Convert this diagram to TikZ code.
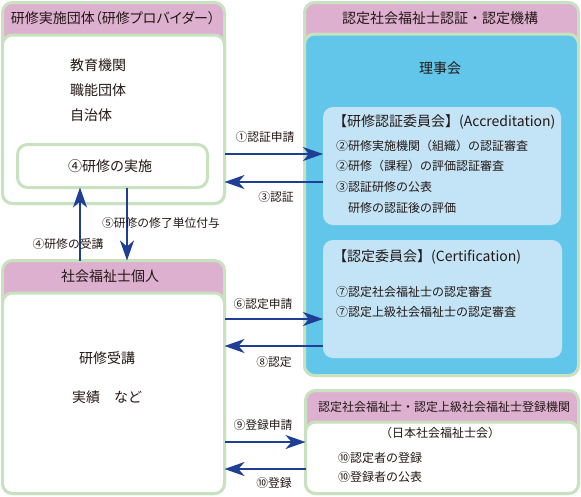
\documentclass[tikz,border=0pt]{standalone}
\usepackage{fontspec}
\setmainfont{Noto Sans CJK JP}
\newfontfamily\jpprop[RawFeature=+palt]{Noto Sans CJK JP}
\usetikzlibrary{arrows.meta}
\definecolor{gborder}{HTML}{C8E2C0}
\definecolor{pinkh}{HTML}{DEB0D0}
\definecolor{blueb}{HTML}{62C6EA}
\definecolor{lblue}{HTML}{C3E4F6}
\definecolor{arrowblue}{HTML}{1F3F95}
\definecolor{txt}{HTML}{231815}
\begin{document}
\begin{tikzpicture}[x=1pt,y=-1pt,
  panel/.style={draw=gborder, line width=3pt, rounded corners=10pt, anchor=north west, inner sep=0pt, outer sep=0pt},
  sub/.style={fill=lblue, rounded corners=10pt, anchor=north west, inner sep=0pt, outer sep=0pt},
  head/.style={font=\fontsize{14}{16}\selectfont, text=txt, inner sep=0pt},
  big/.style={font=\fontsize{14}{16}\selectfont, text=txt, inner sep=0pt},
  mid/.style={font=\fontsize{12}{14}\selectfont, text=txt, inner sep=0pt, anchor=west},
  lab/.style={font=\fontsize{11.8}{13}\selectfont, text=txt, inner sep=0pt},
  arr/.style={draw=arrowblue, line width=2pt, -{Stealth[length=20pt, width=14pt, inset=6pt]}}
]
\useasboundingbox (0,0) rectangle (581,496);

% ---- provider box
\node[panel, fill=pinkh, minimum width=222pt, minimum height=201pt] (provider) at (2.5,2.5) {};
\node[panel, fill=white, minimum width=222pt, minimum height=168.5pt] (providerbody) at (2.5,35) {};
\node[head, font=\jpprop\fontsize{14}{16}\selectfont] (providerhead) at (113,18) {研修実施団体（研修プロバイダー）};
\node[big, anchor=west] (edu) at (70,65) {教育機関};
\node[big, anchor=west] (prof) at (70,90) {職能団体};
\node[big, anchor=west] (local) at (70,115) {自治体};
\node[panel, fill=white, minimum width=190pt, minimum height=43pt] (impl) at (17.5,144.5) {};
\node[big] (impltext) at (110,166) {④研修の実施};

% ---- individual box
\node[panel, fill=pinkh, minimum width=222pt, minimum height=233pt] (individual) at (2.5,260.5) {};
\node[panel, fill=white, minimum width=222pt, minimum height=200.5pt] (individualbody) at (2.5,293) {};
\node[head] (individualhead) at (110,276) {社会福祉士個人};
\node[big] (jukou) at (107,358) {研修受講};
\node[big] (jisseki) at (107,397) {実績　など};

% ---- organisation box
\node[panel, fill=pinkh, minimum width=274pt, minimum height=373pt] (organ) at (304.5,2.5) {};
\node[panel, fill=blueb, minimum width=274pt, minimum height=341.5pt] (organbody) at (304.5,34) {};
\node[head] (organhead) at (440,18) {認定社会福祉士認証・認定機構};
\node[big] (board) at (440,68) {理事会};

\node[sub, minimum width=238pt, minimum height=118pt] (accbox) at (323,107) {};
\node[big, anchor=west] (acctitle) at (333,122) {【研修認証委員会】(Accreditation)};
\node[mid] (acc1) at (336,146) {②研修実施機関（組織）の認証審査};
\node[mid] (acc2) at (336,166) {②研修（課程）の評価認証審査};
\node[mid] (acc3) at (336,187) {③認証研修の公表};
\node[mid] (acc4) at (348,208) {研修の認証後の評価};

\node[sub, minimum width=239pt, minimum height=118pt] (certbox) at (323,240) {};
\node[big, anchor=west] (certtitle) at (333,257) {【認定委員会】(Certification)};
\node[mid] (cert1) at (336,292) {⑦認定社会福祉士の認定審査};
\node[mid] (cert2) at (336,312) {⑦認定上級社会福祉士の認定審査};

% ---- registry box
\node[panel, fill=pinkh, minimum width=273pt, minimum height=103pt] (registry) at (305.5,390.5) {};
\node[panel, fill=white, minimum width=273pt, minimum height=71.5pt] (registrybody) at (305.5,422) {};
\node[font=\fontsize{12}{14}\selectfont, text=txt, inner sep=0pt] (registryhead) at (444,407) {認定社会福祉士・認定上級社会福祉士登録機関};
\node[font=\fontsize{12}{14}\selectfont, text=txt, inner sep=0pt] (jasw) at (440,433) {（日本社会福祉士会）};
\node[mid] (reg1) at (338,458) {⑩認定者の登録};
\node[mid] (reg2) at (338,477) {⑩登録者の公表};

% ---- arrows
\draw[arr] (provider.east |- 0,154) -- (accbox.west |- 0,154);
\draw[arr] (accbox.west |- 0,182) -- (provider.east |- 0,182);
\draw[arr] (impl.south -| 127,0) -- (individual.north -| 127,0);
\draw[arr] (individual.north -| 80,0) -- (impl.south -| 80,0);
\draw[arr] (individual.east |- 0,319) -- (certbox.west |- 0,319);
\draw[arr] (certbox.west |- 0,346) -- (individual.east |- 0,346);
\draw[arr] (individual.east |- 0,442) -- (registry.west |- 0,442);
\draw[arr] (registry.west |- 0,469) -- (individual.east |- 0,469);

% ---- arrow labels
\node[lab] (l1) at (265,137) {①認証申請};
\node[lab] (l3) at (276,197) {③認証};
\node[lab] (l5) at (161,223) {⑤研修の修了単位付与};
\node[lab] (l4) at (68,244) {④研修の受講};
\node[lab] (l6) at (263,304) {⑥認定申請};
\node[lab] (l8) at (274,362) {⑧認定};
\node[lab] (l9) at (263,425) {⑨登録申請};
\node[lab] (l10) at (274,483) {⑩登録};
\end{tikzpicture}
\end{document}
